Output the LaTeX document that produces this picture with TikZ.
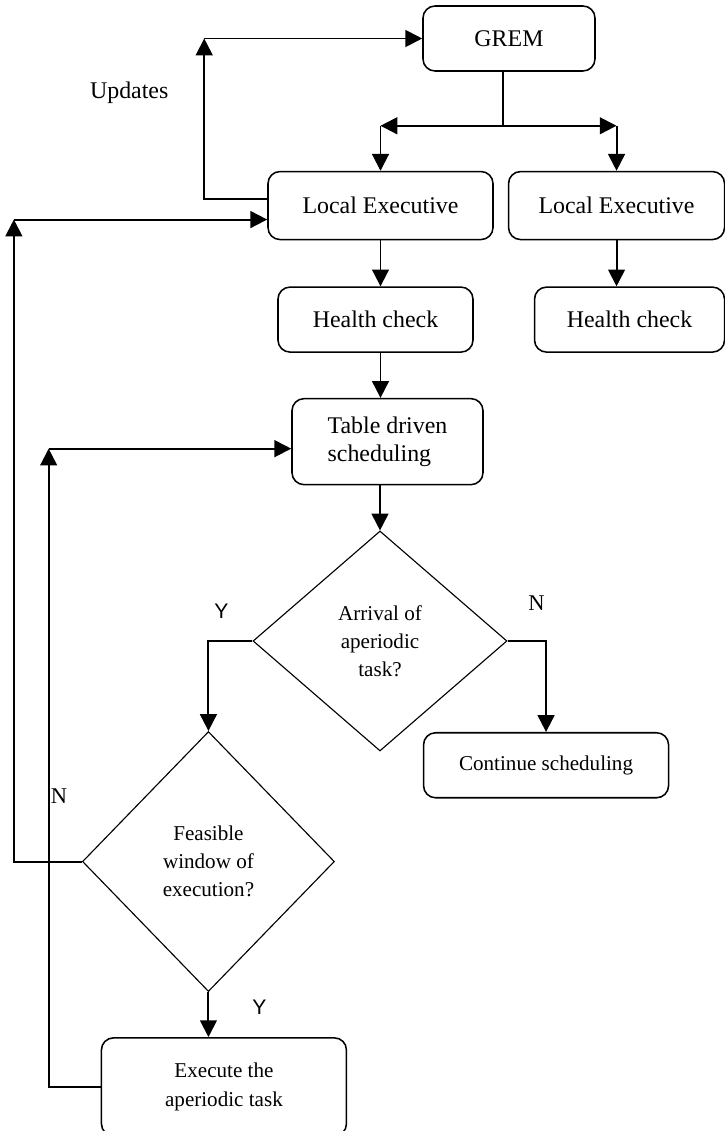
\documentclass[tikz,border=0pt]{standalone}
\usepackage{fontspec}
\setmainfont{Liberation Serif}
\newfontfamily\yfont{Liberation Sans}
\usetikzlibrary{positioning, arrows.meta, shapes.geometric, calc}

\begin{document}
\begin{tikzpicture}[
    node distance=1.15cm and 0.35cm, every node/.style={font=\fontsize{17}{20}\selectfont},
    box/.style={draw, rounded corners=0.3cm, line width=1.1pt, minimum height=1.625cm, inner sep=0pt, align=center},
    dec/.style={draw, diamond, line width=0.8pt, inner sep=0pt, align=center, font=\fontsize{15}{20}\selectfont},
    arrow/.style={-{Triangle[length=4.2mm, width=4.2mm]}, line width=1.4pt},
    line/.style={line width=1.4pt},
    yn/.style={font=\yfont\fontsize{15}{18}\selectfont},
    nn/.style={font=\fontsize{16}{18}\selectfont}
  ]
\useasboundingbox (0,0) rectangle (18.125,-28.275);

\node[box, minimum width=4.3cm] (grem) at (12.725,-0.9625) {GREM};

\node[box, minimum width=5.625cm, minimum height=1.7cm,
      below=2.475cm of grem, xshift=-3.2125cm]     (le1) {Local Executive};

\node[box, minimum width=5.4cm, minimum height=1.7cm,
      right=0.35cm of le1]                         (le2) {Local Executive};

\node[box, minimum width=4.875cm,
      below=of le1, xshift=-0.125cm]               (hc1) {Health check};

\node[box, minimum width=4.75cm,
      below=of le2, xshift=0.325cm]                (hc2) {Health check};

\node[box, minimum width=4.775cm, minimum height=2.15cm, align=left,
      below=1.125cm of hc1, xshift=0.3cm]          (tds) {Table driven\\scheduling};

\node[dec, minimum width=6.35cm, minimum height=5.5cm,
      below=1.125cm of tds, xshift=-0.1875cm]      (arr) {Arrival of\\aperiodic\\task?};

\node[box, minimum width=6.125cm, font=\fontsize{15}{20}\selectfont,
      below=2.275cm of arr.east, xshift=0.9625cm]  (cont) {Continue scheduling};

\node[dec, minimum width=6.3cm, minimum height=6.5cm,
      below=2.25cm of arr.west, xshift=-1.1cm]     (feas) {Feasible\\window of\\execution?};

\node[box, minimum width=6.125cm, minimum height=2.45cm, font=\fontsize{15}{20}\selectfont,
      below=1.125cm of feas, xshift=0.3875cm]      (exe) {Execute the\\aperiodic task};

% GREM to both local executives
\coordinate (split) at ([xshift=-0.15cm, yshift=-1.35cm]grem.south);
\coordinate (lsplit) at (le1.north |- split);
\coordinate (rsplit) at (le2.north |- split);
  \draw[line] (grem.south -| split) -- (split);
  \draw[arrow] (split) -- (lsplit);
  \draw[arrow] (split) -- (rsplit);
  \draw[arrow] (lsplit) -- (le1.north);
  \draw[arrow] (rsplit) -- (le2.north);

  \draw[arrow] (le1.south) -- (le1.south |- hc1.north);
  \draw[arrow] (le2.south) -- (le2.south |- hc2.north);
  \draw[arrow] (hc1.south -| le1.south) -- (tds.north -| le1.south);
  \draw[arrow] (tds.south -| arr.north) -- (arr.north);

% updates loop
\coordinate (upcorner) at ([xshift=-5.45cm]grem.west);
  \draw[arrow] ([yshift=0.175cm]le1.west) -| (upcorner);
  \draw[arrow] (upcorner) -- (grem.west);
\node (upd) at ([xshift=-1.875cm, yshift=-1.35cm]upcorner) {Updates};

% decisions
\coordinate (ncorner) at (arr.east -| cont.north);
\coordinate (ycorner) at (arr.west -| feas.north);
  \draw[arrow] (arr.east) -| (cont.north);
  \draw[arrow] (arr.west) -| (feas.north);
  \draw[arrow] (feas.south) -- (feas.south |- exe.north);
\node[nn] (n1) at ([xshift=-0.24cm, yshift=0.95cm]ncorner) {N};
\node[yn] (y1) at ([xshift=0.325cm, yshift=0.75cm]ycorner) {Y};
\node[nn] (n2) at ([xshift=-0.575cm, yshift=1.625cm]feas.west) {N};
\node[yn] (y2) at ([xshift=1.275cm, yshift=-0.375cm]feas.south) {Y};

% not feasible: back to local executive
\coordinate (lein) at ([yshift=-0.35cm]le1.west);
\coordinate (nlow) at ([xshift=-1.7cm]feas.west);
\coordinate (nhigh) at (nlow |- lein);
  \draw[arrow] (feas.west) -- (nlow) -- (nhigh);
  \draw[arrow] (nhigh) -- (lein);

% executed: back to table driven scheduling
\coordinate (tdsin) at ([yshift=-0.175cm]tds.west);
\coordinate (elow) at ([xshift=-1.3cm]exe.west);
\coordinate (ehigh) at (elow |- tdsin);
  \draw[arrow] (exe.west) -- (elow) -- (ehigh);
  \draw[arrow] (ehigh) -- (tdsin);
\end{tikzpicture}
\end{document}
